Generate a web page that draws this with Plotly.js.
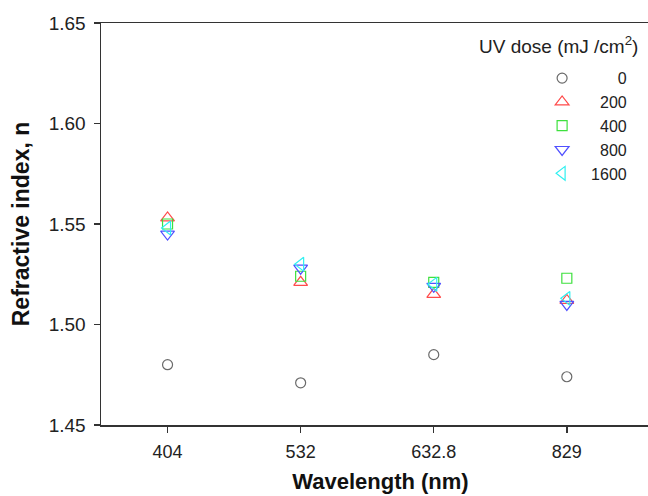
<!DOCTYPE html>
<html>
<head>
<meta charset="utf-8">
<script src="https://cdn.plot.ly/plotly-3.0.1.min.js"></script>
<style>html,body{margin:0;padding:0;background:#fff;overflow:hidden;width:648px;height:496px;}#chart{width:660px;height:496px;}</style>
</head>
<body>
<div id="chart"></div>
<script>
const wavelengths = ["404", "532", "632.8", "829"];
const doseLabels = ["\u2007\u2007\u20070", "\u2007200", "\u2007400", "\u2007800", "1600"];
const dose0    = [1.480, 1.471, 1.485, 1.474];
const dose200  = [1.553, 1.521, 1.515, 1.512];
const dose400  = [1.550, 1.524, 1.521, 1.523];
const dose800  = [1.545, 1.528, 1.519, 1.510];
const dose1600 = [1.548, 1.530, 1.520, 1.513];
const yTicks = [1.45, 1.50, 1.55, 1.60, 1.65];

const series = [dose0, dose200, dose400, dose800, dose1600];
const symbols = ["circle-open", "triangle-up-open", "square-open", "triangle-down-open", "triangle-left-open"];
const colors = ["#6a6a6a", "#ff4a4a", "#3ee03e", "#5050ff", "#30f0f0"];
const sizes = [10, 12, 10, 12, 12];

const traces = series.map((vals, i) => ({
  x: wavelengths, y: vals, type: "scatter", mode: "markers", name: doseLabels[i],
  marker: {symbol: symbols[i], size: sizes[i], color: colors[i], line: {width: 1.2, color: colors[i]}},
  cliponaxis: false
}));

const layout = {
  width: 660, height: 496,
  margin: {l: 101, r: 0, t: 23, b: 71},
  paper_bgcolor: "#fff", plot_bgcolor: "#fff",
  font: {family: "Liberation Sans, Arial, sans-serif", color: "#222", size: 18},
  showlegend: true,
  legend: {x: 0.773, y: 0.905, xanchor: "left", yanchor: "top", bgcolor: "rgba(0,0,0,0)",
           font: {size: 16, color: "#222"}, itemwidth: 48, tracegroupgap: 0},
  xaxis: {type: "category", range: [-0.5, 3.70], showgrid: false, zeroline: false,
          showline: true, linecolor: "#333", linewidth: 1.5, mirror: true,
          ticks: "outside", ticklen: 6, tickcolor: "#333", tickwidth: 1.5,
          ticklabelstandoff: 4,
          tickfont: {size: 18, color: "#222"},
          title: {text: "<b>Wavelength (nm)</b>", font: {size: 22, color: "#111"}, standoff: 12}},
  yaxis: {range: [1.45, 1.65], tickvals: yTicks, tickformat: ".2f", showgrid: false, zeroline: false,
          showline: true, linecolor: "#333", linewidth: 1.5,
          ticks: "outside", ticklen: 6, tickcolor: "#333", tickwidth: 1.5,
          ticklabelstandoff: 4,
          tickfont: {size: 19, color: "#222"},
          title: {text: "<b>Refractive index, n</b>", font: {size: 23, color: "#111"}, standoff: 12}},
  annotations: [{
    xref: "paper", yref: "paper", x: 0.964, y: 0.945, xanchor: "right", yanchor: "middle",
    text: "UV dose (mJ /cm<sup>2</sup>)", showarrow: false, font: {size: 19, color: "#222"}
  }]
};

Plotly.newPlot("chart", traces, layout, {displayModeBar: false, staticPlot: true});
</script>
</body>
</html>
